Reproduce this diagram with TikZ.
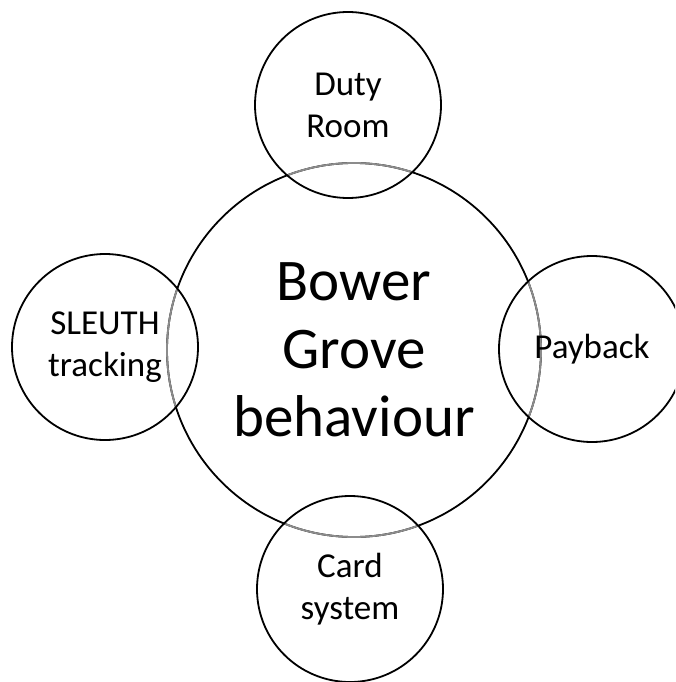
\documentclass[tikz,border=0pt]{standalone}
\usepackage{fontspec}
\setmainfont{Carlito}
\begin{document}
\begin{tikzpicture}[x=1pt,y=-1pt,
  bigc/.style={circle,draw=black,line width=1.8pt,minimum size=374pt,inner sep=0pt,align=center,font=\fontsize{59}{68}\selectfont},
  smallc/.style={circle,draw=black,line width=1.8pt,minimum size=186pt,inner sep=0pt,align=center,font=\fontsize{35}{42}\selectfont}]
\useasboundingbox (0,0) rectangle (675,682);
\begin{scope}
\clip (0,0) rectangle (675,682);
\node[bigc] (main) at (354,350) {Bower\\Grove\\behaviour};
\foreach \p in {(348,105),(105,347),(592,349),(350,589)}{
  \begin{scope}
    \clip \p circle (93);
    \draw[line width=1.8pt,black!45] (main.center) circle (187);
  \end{scope}
}
\node[smallc] (duty) at (348,105) {Duty\\Room};
\node[smallc] (sleuth) at (105,347) {SLEUTH\\tracking};
\node[smallc] (payback) at (592,349) {Payback};
\node[smallc] (card) at (350,589) {Card\\system};
\end{scope}
\end{tikzpicture}
\end{document}
